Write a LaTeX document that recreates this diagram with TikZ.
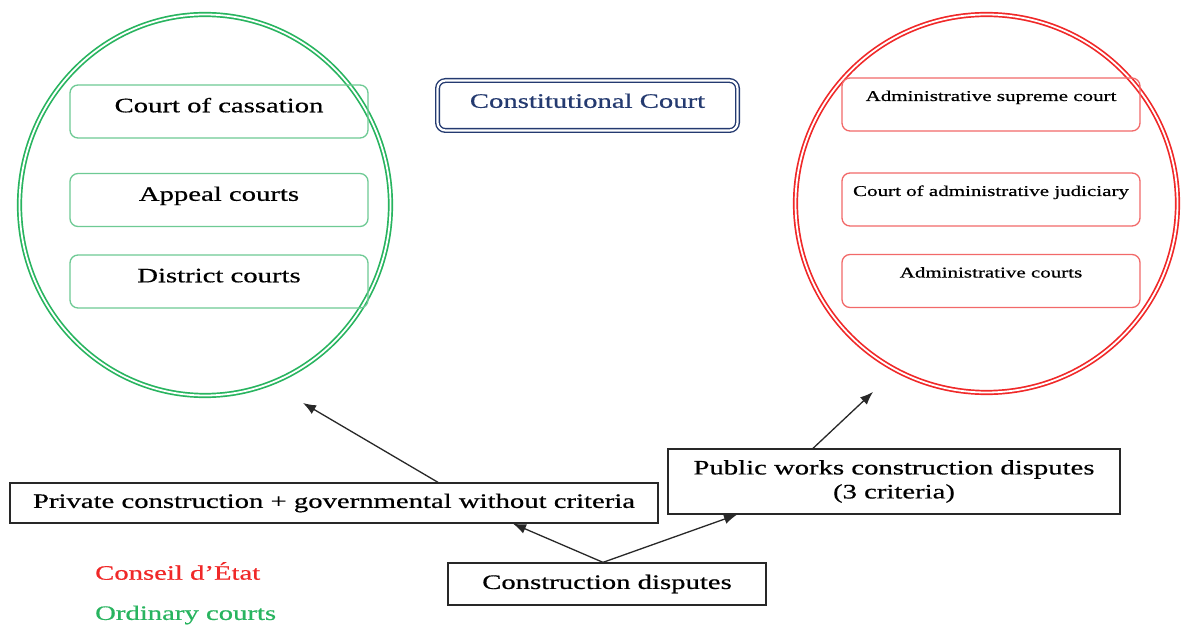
\documentclass[tikz,border=0pt]{standalone}
\usepackage{fontspec}
\setmainfont{Liberation Serif}[FakeStretch=1.4,FakeBold=0.6]
\usetikzlibrary{shapes.geometric,arrows.meta}

\definecolor{ordgreen}{RGB}{40,180,95}
\definecolor{ordbox}{RGB}{110,202,148}
\definecolor{admred}{RGB}{240,40,40}
\definecolor{admbox}{RGB}{242,105,105}
\definecolor{constnavy}{RGB}{36,58,112}
\definecolor{edge}{RGB}{40,40,40}

\tikzset{
  courtring/.style={ellipse, draw, double, line width=1.7pt, double distance=1.8pt, inner sep=0pt},
  ordcourt/.style={draw=ordbox, line width=1.3pt, rounded corners=8pt, minimum width=298pt,
    minimum height=53pt, inner sep=0pt, font=\fontsize{20.5}{24}\selectfont,
    text height=14pt, text depth=12.4pt},
  admcourt/.style={draw=admbox, line width=1.3pt, rounded corners=8pt, minimum width=298pt,
    minimum height=53pt, inner sep=0pt, font=\fontsize{15}{18}\selectfont,
    text height=11pt, text depth=18pt},
  disputebox/.style={draw=edge, line width=1.3pt, inner sep=0pt, font=\fontsize{20.5}{24}\selectfont},
  plainlabel/.style={inner sep=0pt, anchor=west, font=\fontsize{20.5}{24}\selectfont},
  flow/.style={draw=edge, line width=1.3pt, -{Latex[length=13pt,width=10pt]}}
}

\begin{document}
\begin{tikzpicture}[x=1pt,y=-1pt]
\useasboundingbox[fill=white] (0,0) rectangle (1189,628);

% ordinary jurisdiction
\node[courtring, draw=ordgreen, minimum width=371pt, minimum height=381pt] (ordring) at (205,205) {};
\node[ordcourt] (cass) at (219,111.5) {Court of cassation};
\node[ordcourt] (appeal) at (219,200) {Appeal courts};
\node[ordcourt] (district) at (219,281.5) {District courts};

% administrative jurisdiction
\node[courtring, draw=admred, minimum width=382pt, minimum height=378pt] (admring) at (986.5,203.5) {};
\node[admcourt] (supreme) at (991,104.5) {Administrative supreme court};
\node[admcourt] (judic) at (991,199.5) {Court of administrative judiciary};
\node[admcourt] (admcourts) at (991,281) {Administrative courts};

% constitutional court
\node[draw=constnavy, double, line width=1.4pt, double distance=2.2pt, rounded corners=8pt,
  minimum width=300pt, minimum height=50pt, inner sep=0pt, text=constnavy,
  font=\fontsize{20.5}{24}\selectfont, text height=15pt, text depth=10.4pt]
  (const) at (587.5,105.5) {Constitutional Court};

% disputes
\node[disputebox, minimum width=648pt, minimum height=40pt] (priv) at (334,503)
  {Private construction + governmental without criteria};
\node[disputebox, minimum width=452pt, minimum height=65pt, align=center] (pub) at (894,481.5)
  {Public works construction disputes\\(3 criteria)};
\node[disputebox, minimum width=318pt, minimum height=42pt] (constr) at (607,584)
  {Construction disputes};

% arrow ends pointing to the jurisdictions
\coordinate (toord) at (303,403);
\coordinate (toadm) at (873,392);

\draw[flow] ([xshift=104pt]priv.north) -- (toord);
\draw[flow] ([xshift=-81pt]pub.north) -- (toadm);
\draw[flow] ([xshift=-4pt]constr.north) -- ([xshift=179pt]priv.south);
\draw[flow] ([xshift=-4pt]constr.north) -- ([xshift=-157pt]pub.south);

% legend
\node[plainlabel, text=admred] (legadm) at (95,571) {Conseil d’État};
\node[plainlabel, text=ordgreen] (legord) at (95,615) {Ordinary courts};
\end{tikzpicture}
\end{document}
